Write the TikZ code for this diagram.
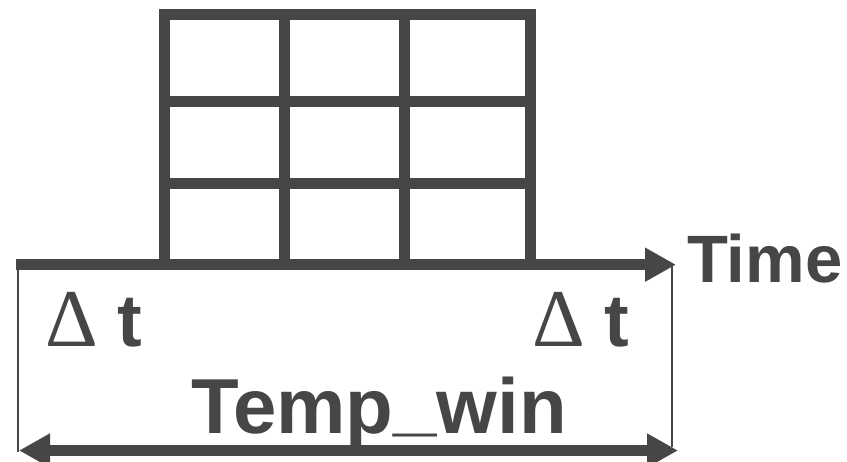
\documentclass[tikz,border=0pt]{standalone}
\usepackage{fontspec}
\setmainfont{Liberation Sans}
\newfontfamily\deltafont{Liberation Serif}
\usetikzlibrary{arrows.meta}
\definecolor{ink}{HTML}{464646}
\begin{document}
\begin{tikzpicture}[x=1pt,y=-1pt,
  grid/.style={draw=ink,line width=11pt,line join=miter},
  thick arrow/.style={draw=ink,line width=11pt,-{Triangle[length=31pt,width=32pt]}},
  thin/.style={draw=ink,line width=2pt},
  lbl/.style={text=ink,inner sep=0pt,font=\bfseries}]
\useasboundingbox (0,0) rectangle (847,462);
% grid
\draw[grid] (164.5,14.8) rectangle (530.3,264.7);
\draw[grid] (284.7,14.8) -- (284.7,264.7);
\draw[grid] (404.7,14.8) -- (404.7,264.7);
\draw[grid] (164.5,102) -- (530.3,102);
\draw[grid] (164.5,183.3) -- (530.3,183.3);
% coordinates
\coordinate (axL) at (16,264.7);
\coordinate (axR) at (676,264.7);
\coordinate (vlT) at (18,264);
\coordinate (vlB) at (18,452);
\coordinate (vrT) at (672,266);
\coordinate (vrB) at (672,447);
\coordinate (wL) at (19,450.5);
\coordinate (wR) at (678,450.5);
% thin verticals
\draw[thin] (vlT) -- (vlB);
\draw[thin] (vrT) -- (vrB);
% time axis
\draw[thick arrow] (axL) -- (axR);
% window arrow
\draw[draw=ink,line width=11pt,{Triangle[length=31pt,width=32pt]}-{Triangle[length=31pt,width=32pt]}] (wL) -- (wR);
% labels
\node[lbl,font=\bfseries\fontsize{67}{67}\selectfont,anchor=base west] (time) at (687,282.7) {Time};
\node[lbl,font=\bfseries\fontsize{78}{78}\selectfont,anchor=base west] (tw) at (191,434) {Temp\raisebox{6pt}{\_}win};
\node[lbl,anchor=base west] (dl) at (45,347) {\deltafont\mdseries\fontsize{82}{82}\selectfont Δ\hspace{20pt}\fontspec{Liberation Sans}\bfseries\fontsize{74}{74}\selectfont t};
\node[lbl,anchor=base west] (dr) at (532,347) {\deltafont\mdseries\fontsize{82}{82}\selectfont Δ\hspace{20pt}\fontspec{Liberation Sans}\bfseries\fontsize{74}{74}\selectfont t};
\end{tikzpicture}
\end{document}
